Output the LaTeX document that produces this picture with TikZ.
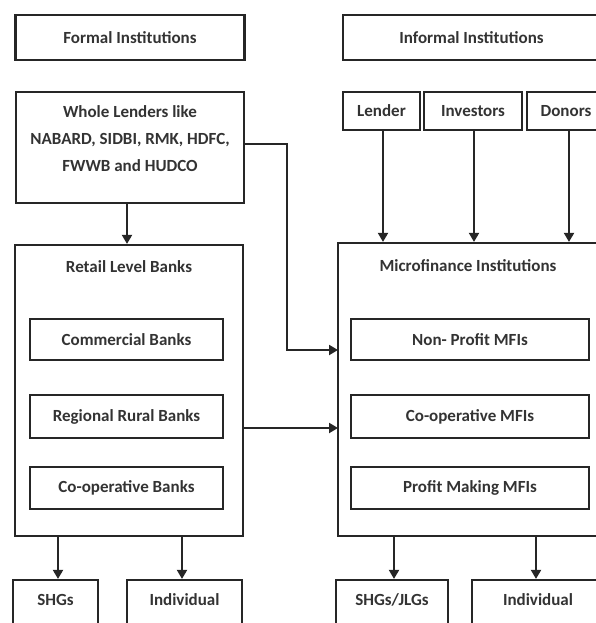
\documentclass[tikz,border=0pt]{standalone}
\usepackage{fontspec}
\setmainfont{Carlito}
\usetikzlibrary{arrows.meta}
\tikzset{
  box/.style={draw=black!85, line width=2.2pt, rectangle, inner sep=0pt, align=center,
    font=\fontsize{17}{27}\selectfont\bfseries, text=black!80},
  lbl/.style={inner sep=0pt, align=center, font=\fontsize{17}{27}\selectfont\bfseries, text=black!80},
  arr/.style={draw=black!85, line width=2pt, -{Triangle[width=10pt,length=9pt]}}
}
\begin{document}
\begin{tikzpicture}[x=1pt,y=-1pt]
\useasboundingbox (0,0) rectangle (596,623);
\clip (0,0) rectangle (596,623);
% top row
\node[box, minimum width=229, minimum height=45] (formal) at (130,37.5) {Formal Institutions};
\node[box, minimum width=257, minimum height=45] (informal) at (471.5,37.5) {Informal Institutions};
% lenders
\node[box, minimum width=228, minimum height=111] (wl) at (130,147.5) {};
\node[lbl] (wlt) at (130,139) {Whole Lenders like\\NABARD, SIDBI, RMK, HDFC,\\FWWB and HUDCO};
\node[box, minimum width=77, minimum height=38] (lender) at (381.5,111) {Lender};
\node[box, minimum width=98, minimum height=38] (inv) at (473,111) {Investors};
\node[box, minimum width=78, minimum height=38] (don) at (566,111) {Donors};
% retail banks
\node[box, minimum width=228, minimum height=291] (rlb) at (129,390.5) {};
\node[lbl] (rlbt) at (129,267) {Retail Level Banks};
\node[box, minimum width=193, minimum height=41] (cb) at (126.5,339.5) {Commercial Banks};
\node[box, minimum width=193, minimum height=43] (rrb) at (126.5,416.5) {Regional Rural Banks};
\node[box, minimum width=193, minimum height=42] (cob) at (126.5,488) {Co-operative Banks};
% MFIs
\node[box, minimum width=262, minimum height=293] (mfi) at (469,389.5) {};
\node[lbl] (mfit) at (468,266) {Microfinance Institutions};
\node[box, minimum width=238, minimum height=41] (np) at (470,339.5) {Non- Profit MFIs};
\node[box, minimum width=238, minimum height=43] (com) at (470,416.5) {Co-operative MFIs};
\node[box, minimum width=238, minimum height=42] (pm) at (470,488) {Profit Making MFIs};
% bottom
\node[box, minimum width=85, minimum height=50] (shg) at (55.5,605) {};
\node[lbl] (shgt) at (55.5,600) {SHGs};
\node[box, minimum width=115, minimum height=50] (ind1) at (184.5,605) {};
\node[lbl] (ind1t) at (184.5,600) {Individual};
\node[box, minimum width=112, minimum height=50] (jlg) at (392,605) {};
\node[lbl] (jlgt) at (392,600) {SHGs/JLGs};
\node[box, minimum width=132, minimum height=50] (ind2) at (538,605) {};
\node[lbl] (ind2t) at (538,600) {Individual};
% connectors
\coordinate (bend) at (287,144);
\coordinate (in1) at (338,350);
\coordinate (in2) at (338,428);
\draw[arr] (wl.south -| 127,0) -- (rlb.north -| 127,0);
\draw[arr] (wl.east |- bend) -- (bend) |- (in1);
\draw[arr] (rlb.east |- in2) -- (in2);
\draw[arr] (lender.south -| 383,0) -- (mfi.north -| 383,0);
\draw[arr] (inv.south -| 474,0) -- (mfi.north -| 474,0);
\draw[arr] (don.south -| 569,0) -- (mfi.north -| 569,0);
\draw[arr] (rlb.south -| 58,0) -- (shg.north -| 58,0);
\draw[arr] (rlb.south -| 182,0) -- (ind1.north -| 182,0);
\draw[arr] (mfi.south -| 394,0) -- (jlg.north -| 394,0);
\draw[arr] (mfi.south -| 536,0) -- (ind2.north -| 536,0);
\end{tikzpicture}
\end{document}
